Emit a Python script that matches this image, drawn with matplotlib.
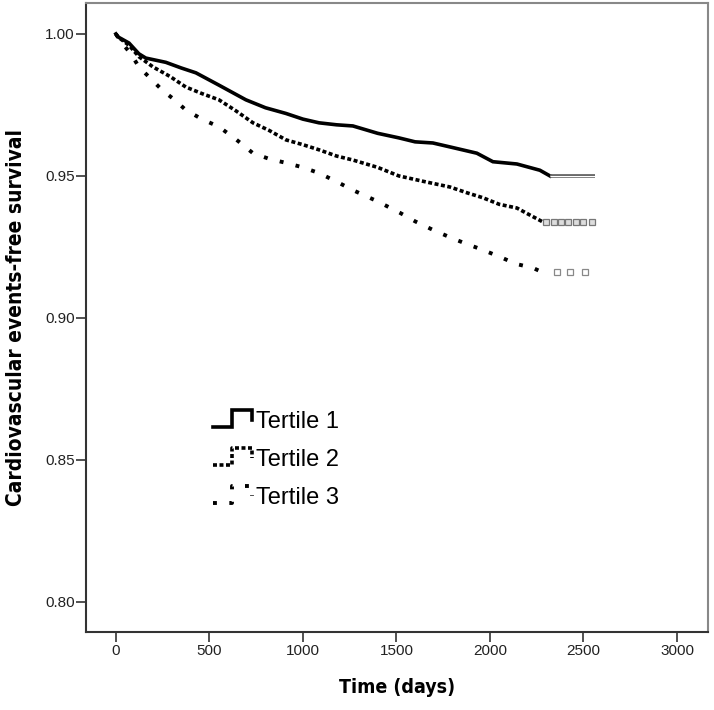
import numpy as np
import matplotlib.pyplot as plt
from matplotlib.legend_handler import HandlerBase
from matplotlib.lines import Line2D

# Kaplan-Meier curves (days, survival)
t1_days = [0, 10, 70, 123, 160, 267, 350, 428, 550, 695, 800, 909, 1000, 1086,
           1180, 1267, 1400, 1513, 1600, 1695, 1800, 1930, 2016, 2144, 2267, 2321]
t1_surv = [1.000, 0.999, 0.9968, 0.993, 0.9915, 0.990, 0.988, 0.9863, 0.982, 0.9768,
           0.974, 0.972, 0.970, 0.9687, 0.968, 0.9676, 0.965, 0.9634, 0.962, 0.9616,
           0.960, 0.958, 0.955, 0.9542, 0.952, 0.950]

t2_days = [0, 10, 70, 123, 198, 290, 374, 460, 551, 640, 733, 820, 909, 1000, 1086,
           1180, 1267, 1400, 1513, 1650, 1786, 1880, 1963, 2050, 2144, 2220, 2283]
t2_surv = [1.000, 0.999, 0.996, 0.992, 0.9884, 0.985, 0.9813, 0.979, 0.9768, 0.973,
           0.9687, 0.966, 0.9627, 0.961, 0.9592, 0.957, 0.9556, 0.953, 0.950, 0.948,
           0.9461, 0.944, 0.9423, 0.940, 0.9387, 0.936, 0.9338]

t3_days = [0, 30, 80, 123, 190, 251, 310, 374, 460, 551, 640, 733, 820, 909, 1000,
           1086, 1180, 1267, 1400, 1519, 1600, 1695, 1800, 1877, 1960, 2053, 2140,
           2230, 2283]
t3_surv = [1.000, 0.997, 0.993, 0.9884, 0.984, 0.980, 0.977, 0.9732, 0.970, 0.9673,
           0.963, 0.958, 0.956, 0.9546, 0.953, 0.951, 0.948, 0.945, 0.941, 0.937,
           0.934, 0.931, 0.928, 0.926, 0.924, 0.9215, 0.919, 0.9176, 0.916]

# censored tails
t1_tail = [2321, 2561]
t2_censor = [2300, 2340, 2380, 2420, 2460, 2500, 2545]
t3_censor = [2358, 2428, 2508]

labels = ['Tertile 1', 'Tertile 2', 'Tertile 3']
x_ticks = [0, 500, 1000, 1500, 2000, 2500, 3000]
y_ticks = [0.80, 0.85, 0.90, 0.95, 1.00]


class StepHandler(HandlerBase):
    # legend key drawn as a small step, like SPSS does
    def create_artists(self, legend, orig_handle, xdescent, ydescent,
                       width, height, fontsize, trans):
        xs = np.array([0.0, 0.45, 0.45, 0.97, 0.97]) * width - xdescent
        ys = np.array([0.05, 0.05, 1.05, 1.05, 0.45]) * height - ydescent
        line = Line2D(xs, ys)
        line.update_from(orig_handle)
        line.set_transform(trans)
        return [line]


fig = plt.figure(figsize=(7.14, 7.10), dpi=100)
ax = fig.add_axes([0.1204, 0.1099, 0.8712, 0.8859])

l1, = ax.plot(t1_days, t1_surv, color='black', lw=2.6, solid_joinstyle='miter')
l2, = ax.plot(t2_days, t2_surv, color='black', lw=2.6, linestyle=(0, (1.1, 0.7)))
l3, = ax.plot(t3_days, t3_surv, color='black', lw=2.8, linestyle=(0, (1, 3.2)))

# censored parts in grey
ax.plot(t1_tail, [t1_surv[-1]] * 2, color='#555555', lw=2.6, solid_capstyle='butt')
ax.plot(t1_tail, [t1_surv[-1]] * 2, color='white', lw=0.9, solid_capstyle='butt')
ax.plot(t2_censor, [t2_surv[-1]] * len(t2_censor), ls='none', marker='s', ms=4.5,
        mfc='#dddddd', mec='#777777', mew=0.9)
ax.plot(t3_censor, [t3_surv[-1]] * len(t3_censor), ls='none', marker='s', ms=4,
        mfc='white', mec='#888888', mew=0.9)

ax.set_xlim(-160, 3166)
ax.set_ylim(0.7894, 1.0109)
ax.set_xticks(x_ticks)
ax.set_xticklabels([str(v) for v in x_ticks])
ax.set_yticks(y_ticks)
ax.set_yticklabels(['%.2f' % v for v in y_ticks])

for lab in ax.get_xticklabels() + ax.get_yticklabels():
    lab.set_fontfamily(['Liberation Sans', 'DejaVu Sans'])
    lab.set_fontsize(11)
    lab.set_color('#222222')
ax.tick_params(axis='both', direction='out', length=7, width=1.2, color='#333333', pad=1)
ax.tick_params(axis='x', pad=2)

for side in ['left', 'bottom']:
    ax.spines[side].set_color('#333333')
    ax.spines[side].set_linewidth(1.5)
for side in ['top', 'right']:
    ax.spines[side].set_color('#888888')
    ax.spines[side].set_linewidth(1.5)

label_font = dict(family='DejaVu Sans', fontstretch='condensed', fontweight='bold')
ax.set_xlabel('Time (days)', labelpad=14, fontsize=14, **label_font)
ax.set_ylabel('Cardiovascular events-free survival', labelpad=14, fontsize=15, **label_font)

ax.legend([l1, l2, l3], labels, handler_map={Line2D: StepHandler()},
          loc='center left', bbox_to_anchor=(0.205, 0.274), frameon=False,
          prop={'family': 'Liberation Sans', 'size': 17}, handlelength=1.7,
          handletextpad=0.1, labelspacing=0.68, borderpad=0, borderaxespad=0)

fig.savefig('out.png', dpi=100)
